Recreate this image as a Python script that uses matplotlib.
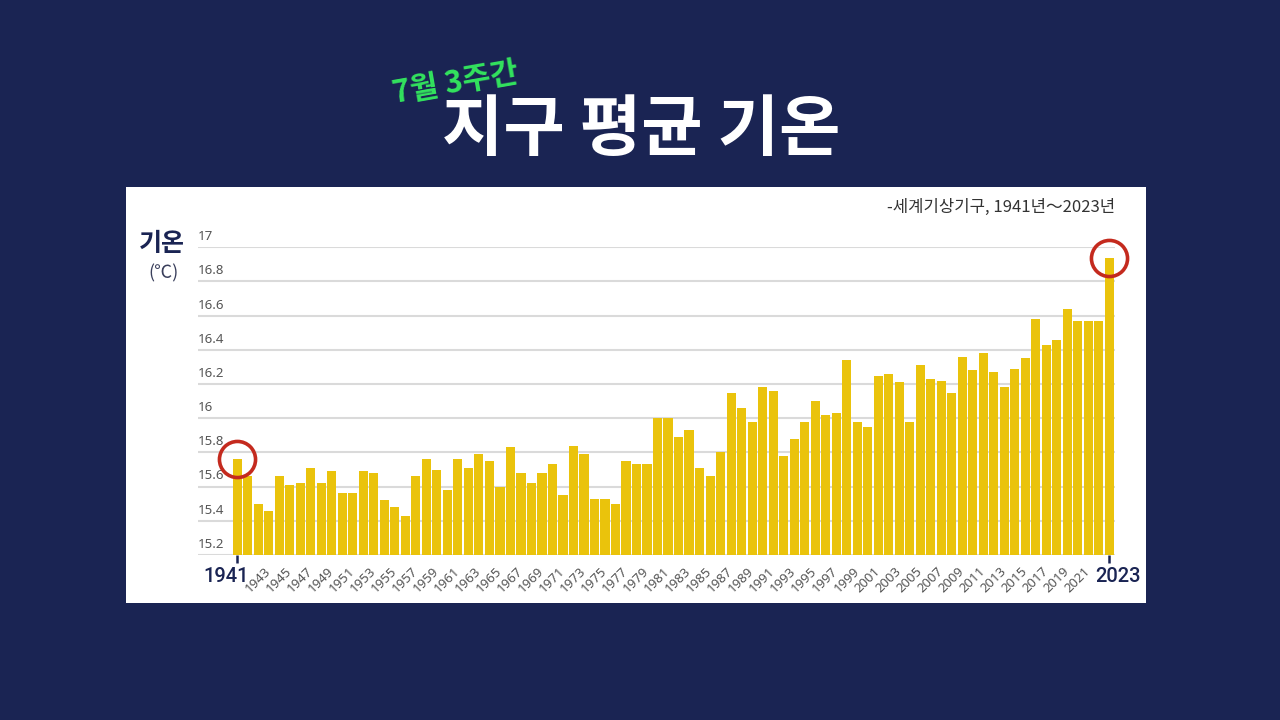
import numpy as np
import matplotlib
matplotlib.use("Agg")
import matplotlib.pyplot as plt
from matplotlib.patches import Rectangle

plt.rcParams['font.family'] = ['Noto Sans CJK KR', 'DejaVu Sans']

# ---- data ----
years = list(range(1940, 2024))
temps = [15.76, 15.66, 15.50, 15.46, 15.66, 15.61, 15.62, 15.71, 15.62, 15.69,
         15.56, 15.56, 15.69, 15.68, 15.52, 15.48, 15.43, 15.66, 15.76, 15.70,
         15.58, 15.76, 15.71, 15.79, 15.75, 15.60, 15.83, 15.68, 15.62, 15.68,
         15.73, 15.55, 15.84, 15.79, 15.53, 15.53, 15.50, 15.75, 15.73, 15.73,
         16.00, 16.00, 15.89, 15.93, 15.71, 15.66, 15.80, 16.15, 16.06, 15.98,
         16.18, 16.16, 15.78, 15.88, 15.98, 16.10, 16.02, 16.03, 16.34, 15.98,
         15.95, 16.25, 16.26, 16.21, 15.98, 16.31, 16.23, 16.22, 16.15, 16.36,
         16.28, 16.38, 16.27, 16.18, 16.29, 16.35, 16.58, 16.43, 16.46, 16.64,
         16.57, 16.57, 16.57, 16.94]
small_tick_years = list(range(1943, 2022, 2))
end_labels = ['1941', '2023']
y_ticks = [15.2, 15.4, 15.6, 15.8, 16.0, 16.2, 16.4, 16.6, 16.8, 17.0]
y_tick_labels = ['15.2', '15.4', '15.6', '15.8', '16', '16.2', '16.4', '16.6', '16.8', '17']
title = '지구 평균 기온'
subtitle = '7월 3주간'
source = '-세계기상기구, 1941년～2023년'
ylabel_main = '기온'
ylabel_unit = '(℃)'

NAVY = '#1a2453'
BAR = '#eac30c'
RED = '#c42a1e'
W, H = 1280, 720

fig = plt.figure(figsize=(12.8, 7.2), dpi=100, facecolor=NAVY)

# white panel
fig.add_artist(Rectangle((126 / W, 1 - 603 / H), (1146 - 126) / W, (603 - 187) / H,
                         transform=fig.transFigure, facecolor='white', edgecolor='none', zorder=0))

ax_left, ax_right, ax_top, ax_bot = 198, 1114.6, 247.3, 555
ax = fig.add_axes([ax_left / W, 1 - ax_bot / H, (ax_right - ax_left) / W, (ax_bot - ax_top) / H])
ax.set_facecolor('none')
for s in ax.spines.values():
    s.set_visible(False)

idx = np.arange(len(years))
base = y_ticks[0]
vals = np.array(temps)
ax.bar(idx, vals - base, bottom=base, width=0.87, color=BAR, zorder=2)

ax.set_xlim(-0.5 - 34 / 10.506, len(years) - 0.5)
ax.set_ylim(y_ticks[0], y_ticks[-1])

# grid + y labels
ax.set_yticks(y_ticks)
ax.set_yticklabels([])
ax.tick_params(axis='y', length=0)
ax.yaxis.grid(True, color='#dadada', linewidth=1.5, zorder=1)
ax.set_axisbelow(True)
for v, lab in zip(y_ticks, y_tick_labels):
    ax.annotate(lab, xy=(0, v), xycoords=('axes fraction', 'data'),
                xytext=(0, 3), textcoords='offset points',
                ha='left', va='bottom', fontsize=9.5, color='#555555',
                family=['Noto Sans', 'DejaVu Sans'])

# small rotated x labels
ax.set_xticks([years.index(y) for y in small_tick_years])
ax.set_xticklabels([str(y) for y in small_tick_years], rotation=45, ha='right',
                   va='center', rotation_mode='anchor', fontsize=9.5, color='#555555',
                   family=['Noto Sans', 'DejaVu Sans'])
ax.tick_params(axis='x', which='major', length=0, pad=10)

# end ticks (short dark marks) and big end labels
ax.set_xticks([0, len(years) - 1], minor=True)
ax.set_xticklabels([], minor=True)
ax.tick_params(axis='x', which='minor', length=6, width=1.8, color=NAVY)
for i, lab, dx in [(0, end_labels[0], -8), (len(years) - 1, end_labels[1], 6.5)]:
    ax.annotate(lab, xy=(idx[i], base), xycoords='data', xytext=(dx, -9),
                textcoords='offset points', ha='center', va='top', fontsize=14.5,
                color=NAVY, fontweight='medium', family=['Roboto', 'DejaVu Sans'],
                annotation_clip=False)

# circles
for i in [0, len(years) - 1]:
    ax.plot(idx[i], vals[i], marker='o', markersize=26, markerfacecolor='none',
            markeredgecolor=RED, markeredgewidth=2.6, clip_on=False, zorder=5)

# y-axis title
fig.text(162 / W, 1 - 244 / H, ylabel_main, ha='center', va='center', fontsize=18,
         color=NAVY, fontweight='bold')
fig.text(163 / W, 1 - 273 / H, ylabel_unit, ha='center', va='center', fontsize=13,
         color='#3a3f5c')

# source
fig.text(1115 / W, 1 - 207 / H, source, ha='right', va='center', fontsize=12, color='#333333')

# titles
fig.text(641 / W, 1 - 131 / H, title, ha='center', va='center', fontsize=48,
         color='white', fontweight='bold')
fig.text(456 / W, 1 - 83 / H, subtitle, ha='center', va='center', fontsize=22,
         color='#33e35e', fontweight='bold', rotation=10, style='italic')

fig.savefig('out.png', dpi=100, facecolor=NAVY)
